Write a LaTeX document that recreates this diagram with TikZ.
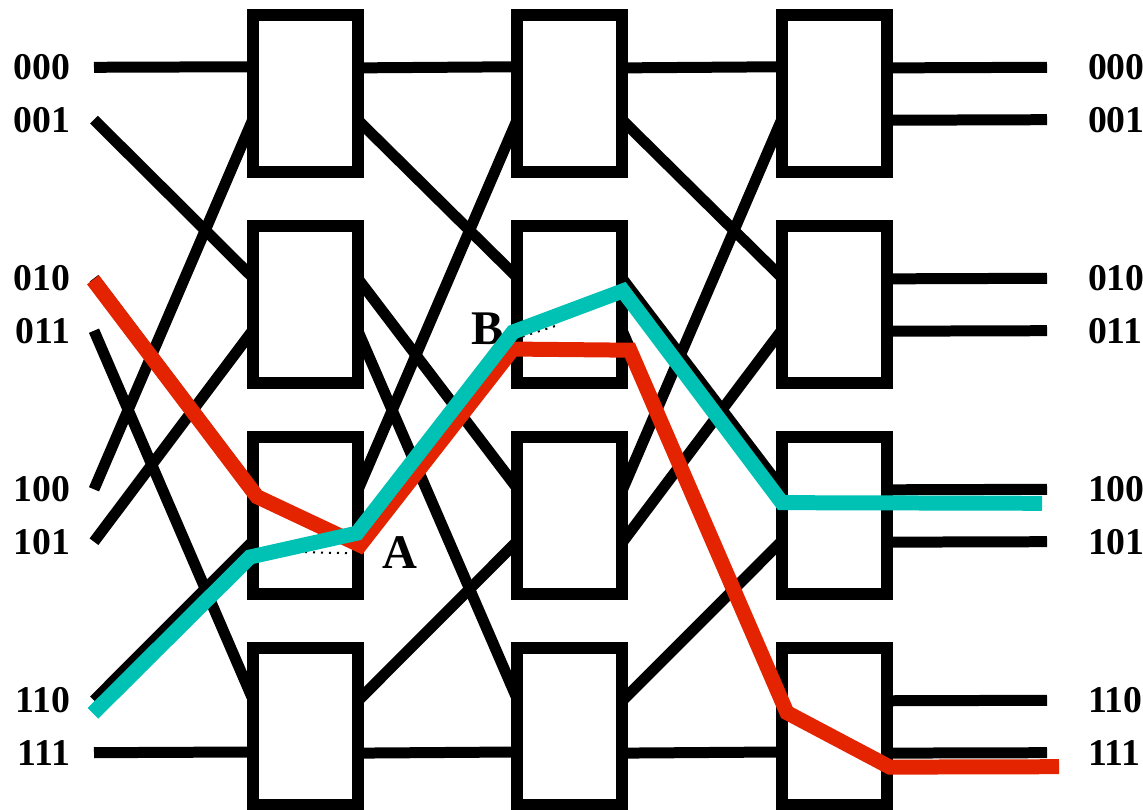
\documentclass[tikz,border=0pt]{standalone}
\usepackage{fontspec}
\setmainfont{Liberation Serif}
\usepackage{xcolor}
\usepackage{tikz}
\usetikzlibrary{positioning,calc}

\definecolor{routered}{RGB}{228,36,0}
\definecolor{routecyan}{RGB}{0,194,180}

\begin{document}
\begin{tikzpicture}[
    x=0.02cm, y=-0.02cm,
    node distance=1.08cm and 3.19cm,
    switch/.style={draw, line width=0.24cm, minimum width=2.1cm, minimum height=3.14cm, inner sep=0pt, outer sep=0pt},
    inlabel/.style={anchor=east, inner xsep=0.48cm, inner ysep=0pt, outer sep=0pt, font=\fontsize{21.5}{21.5}\selectfont\bfseries},
    outlabel/.style={inlabel, anchor=west, inner xsep=0.82cm},
    wire/.style={line width=0.22cm},
    route/.style={line width=0.3cm},
    tag/.style={inner sep=0pt, font=\fontsize{27.5}{27.5}\selectfont\bfseries},
    dots/.style={line width=0.04cm, dash pattern=on 0.04cm off 0.12cm}
]
    \useasboundingbox (0,0) rectangle (1143,810);

    % Etapa 1
    \node[switch] (s11) at (305.5,93.5) {};
    \node[switch, below=of s11] (s12) {};
    \node[switch, below=of s12] (s13) {};
    \node[switch, below=of s13] (s14) {};

    % Etapa 2
    \node[switch, right=of s11] (s21) {};
    \node[switch, right=of s12] (s22) {};
    \node[switch, right=of s13] (s23) {};
    \node[switch, right=of s14] (s24) {};

    % Etapa 3
    \node[switch, right=of s21] (s31) {};
    \node[switch, right=of s22] (s32) {};
    \node[switch, right=of s23] (s33) {};
    \node[switch, right=of s24] (s34) {};

    % Entradas
    \node[inlabel] (i000) at (94,67.3) {000};
    \node[inlabel] (i001) at (94,119.7) {001};
    \node[inlabel] (i010) at (94,278.3) {010};
    \node[inlabel] (i011) at (94,330.7) {011};
    \node[inlabel] (i100) at (94,489.3) {100};
    \node[inlabel] (i101) at (94,541.7) {101};
    \node[inlabel] (i110) at (94,700.3) {110};
    \node[inlabel] (i111) at (94,752.7) {111};

    % Salidas
    \node[outlabel] (o000) at (1047,67.3) {000};
    \node[outlabel] (o001) at (1047,119.7) {001};
    \node[outlabel] (o010) at (1047,278.3) {010};
    \node[outlabel] (o011) at (1047,330.7) {011};
    \node[outlabel] (o100) at (1047,489.3) {100};
    \node[outlabel] (o101) at (1047,541.7) {101};
    \node[outlabel] (o110) at (1047,700.3) {110};
    \node[outlabel] (o111) at (1047,752.7) {111};

    % Shuffle entradas -> etapa 1 (puertos: 153.5/206.5 izq, 26.5/333.5 der)
    \draw[wire] (i000.east) -- (s11.153.5);
    \draw[wire] (i001.east) -- (s12.153.5);
    \draw[wire] (i010.east) -- (s13.153.5);
    \draw[wire] (i011.east) -- (s14.153.5);
    \draw[wire] (i100.east) -- (s11.206.5);
    \draw[wire] (i101.east) -- (s12.206.5);
    \draw[wire] (i110.east) -- (s13.206.5);
    \draw[wire] (i111.east) -- (s14.206.5);

    % Shuffle etapa 1 -> etapa 2
    \draw[wire] (s11.26.5) -- (s21.153.5);
    \draw[wire] (s11.333.5) -- (s22.153.5);
    \draw[wire] (s12.26.5) -- (s23.153.5);
    \draw[wire] (s12.333.5) -- (s24.153.5);
    \draw[wire] (s13.26.5) -- (s21.206.5);
    \draw[wire] (s13.333.5) -- (s22.206.5);
    \draw[wire] (s14.26.5) -- (s23.206.5);
    \draw[wire] (s14.333.5) -- (s24.206.5);

    % Shuffle etapa 2 -> etapa 3
    \draw[wire] (s21.26.5) -- (s31.153.5);
    \draw[wire] (s21.333.5) -- (s32.153.5);
    \draw[wire] (s22.26.5) -- (s33.153.5);
    \draw[wire] (s22.333.5) -- (s34.153.5);
    \draw[wire] (s23.26.5) -- (s31.206.5);
    \draw[wire] (s23.333.5) -- (s32.206.5);
    \draw[wire] (s24.26.5) -- (s33.206.5);
    \draw[wire] (s24.333.5) -- (s34.206.5);

    % Etapa 3 -> salidas
    \draw[wire] (s31.26.5) -- (o000.west);
    \draw[wire] (s31.333.5) -- (o001.west);
    \draw[wire] (s32.26.5) -- (o010.west);
    \draw[wire] (s32.333.5) -- (o011.west);
    \draw[wire] (s33.26.5) -- (o100.west);
    \draw[wire] (s33.333.5) -- (o101.west);
    \draw[wire] (s34.26.5) -- (o110.west);
    \draw[wire] (s34.333.5) -- (o111.west);

    % Conexiones internas punteadas
    \draw[dots] ($(s13.206.5)+(44,11)$) -- ($(s13.333.5)+(-11,11)$);
    \draw[dots] ($(s22.206.5)+(-2.5,9)$) -- ($(s22.206.5)+(37.5,-4)$);

    % Etiquetas
    \node[tag] (A) at (400,553) {A};
    \node[tag] (B) at (488,329) {B};

    % Rutas
    \draw[route, routered] ($(i010.east)+(-1,1.5)$) -- ($(s13.153.5)+(4,8)$) -- ($(s13.333.5)+(2,3)$)
        -- ($(s22.206.5)+(-4.5,19)$) -- ($(s22.333.5)+(7.5,19)$) -- ($(s34.153.5)+(5,13)$)
        -- ($(s34.333.5)+(3,14)$) -- ($(o111.west)+(12,14)$);
    \draw[route, routecyan] ($(i110.east)+(-1,13)$) -- ($(s13.206.5)+(-3,16)$) -- ($(s13.333.5)+(-1,-9)$)
        -- ($(s22.206.5)+(-4.5,2)$) -- ($(s22.26.5)+(0.5,12)$) -- ($(s33.153.5)+(0,14)$)
        -- ($(o100.west)+(-5,14)$);

\end{tikzpicture}
\end{document}
